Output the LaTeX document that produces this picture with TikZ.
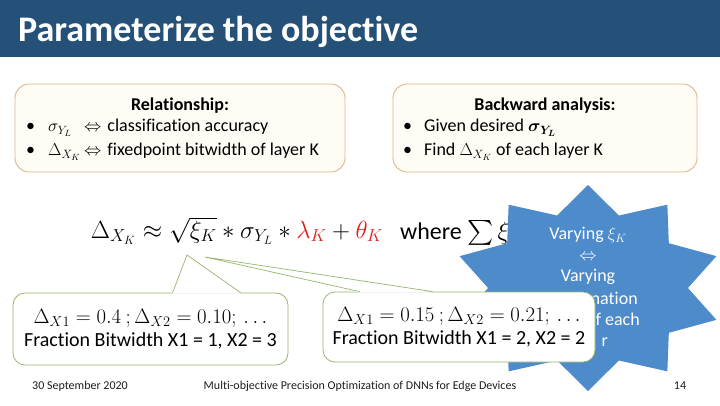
\documentclass[tikz,border=0pt]{standalone}
\usepackage{fontspec}
\setmainfont{Carlito}[Ligatures={NoCommon}]
\usepackage{amsmath}
\usepackage{xcolor}
\usepackage{tikz}
\usetikzlibrary{positioning}

\definecolor{barblue}{RGB}{37,80,119}
\definecolor{boxline}{RGB}{226,182,132}
\definecolor{boxfill}{RGB}{255,252,246}
\definecolor{calloutline}{RGB}{150,182,110}
\definecolor{starblue}{RGB}{78,139,203}
\definecolor{eqred}{RGB}{222,32,28}
\definecolor{footgray}{RGB}{30,30,30}

\begin{document}
\begin{tikzpicture}[
    x=1pt, y=-1pt,
    infobox/.style={draw=boxline, fill=boxfill, rounded corners=14pt, line width=0.9pt, minimum height=88pt, inner sep=0pt},
    calloutbox/.style={draw=calloutline, fill=white, rounded corners=12pt, line width=0.8pt, inner sep=0pt, align=center, font=\fontsize{20}{23}\selectfont},
    pointer/.style={draw=calloutline, line width=0.7pt},
    heading/.style={inner sep=0pt, font=\fontsize{18}{24}\selectfont\bfseries},
    bullets/.style={inner sep=0pt, anchor=west, align=left, font=\fontsize{18}{24}\selectfont},
    starline/.style={inner sep=0pt, anchor=base east, text=white, font=\fontsize{18}{21}\selectfont},
    foot/.style={inner sep=0pt, text=footgray, font=\fontsize{12}{14}\selectfont}
  ]
    \useasboundingbox (0,0) rectangle (720,405);
    \fill[white] (0,0) rectangle (720,405);

    % title bar
    \fill[barblue] (0,0) rectangle (720,57);
    \node[inner sep=0pt, anchor=base west, text=white, font=\fontsize{36}{40}\selectfont\bfseries] (title) at (18,41) {Parameterize the objective};

    % the two info boxes
    \node[infobox, minimum width=330pt] (relbox) at (180,128) {};
    \node[heading] (relhead) at (180,106) {Relationship:};
    \node[bullets] (rellist) at (26,140) {\textbullet\hspace{13pt}\makebox[36pt][l]{$\sigma_{Y_L}$}$\Leftrightarrow$\hspace{6pt}classification accuracy\\
      \textbullet\hspace{13pt}\makebox[36pt][l]{$\Delta_{X_K}$}$\Leftrightarrow$\hspace{6pt}fixedpoint bitwidth of layer K};

    \node[infobox, minimum width=304pt] (backbox) at (545,128) {};
    \node[heading] (backhead) at (545,106) {Backward analysis:};
    \node[bullets] (backlist) at (403,140) {\textbullet\hspace{12pt}Given desired $\boldsymbol{\sigma_{Y_L}}$\\
      \textbullet\hspace{12pt}Find $\Delta_{X_K}$ of each layer K};

    % objective
    \node[inner sep=0pt, font=\fontsize{24.5}{28}\selectfont] (objective) at (237,231)
      {$\Delta_{X_K} \approx \sqrt{\xi_K} * \sigma_{Y_L} * \textcolor{eqred}{\lambda_K} + \textcolor{eqred}{\theta_K}$};
    \node[inner sep=0pt, anchor=west, font=\fontsize{24}{28}\selectfont] (where) at (400,233) {where $\sum \xi_K$};

    % 10-point star
    \fill[starblue] (588,185) \foreach \i [evaluate=\i as \a using {90-18*\i},
        evaluate=\i as \f using {1-0.26*mod(\i,2)}] in {1,...,19} {
        -- ({588+135*\f*cos(\a)},{288-103*\f*sin(\a)}) } -- cycle;
    \node[inner sep=0pt, align=center, text=white, font=\fontsize{18}{21}\selectfont] (starnote) at (588,256)
      {Varying $\xi_K$\\$\Leftrightarrow$\\Varying};
    \node[starline] (starA) at (638,304) {mation};
    \node[starline] (starB) at (640,325) {f each};
    \node[starline] (starC) at (608,346) {r};

    % callouts
    \node[calloutbox, minimum width=275pt, minimum height=72pt] (calloutA) at (150.5,329)
      {$\Delta_{X1} = 0.4\ ;\Delta_{X2} = 0.10;\,\ldots$\\Fraction Bitwidth X1 = 1, X2 = 3};
    \coordinate (tipA) at (187,255);
    \fill[white] ([xshift=160pt, yshift=-1pt]calloutA.north west) -- (tipA) -- ([xshift=228pt, yshift=-1pt]calloutA.north west) -- cycle;
    \draw[pointer] ([xshift=160pt]calloutA.north west) -- (tipA) -- ([xshift=228pt]calloutA.north west);

    \node[calloutbox, minimum width=272pt, minimum height=70pt] (calloutB) at (459,327)
      {$\Delta_{X1} = 0.15\ ;\Delta_{X2} = 0.21;\,\ldots$\\Fraction Bitwidth X1 = 2, X2 = 2};
    \coordinate (tipB) at (205,257);
    \fill[white] ([xshift=37pt, yshift=-1pt]calloutB.north west) -- (tipB) -- ([xshift=110pt, yshift=-1pt]calloutB.north west) -- cycle;
    \draw[pointer] ([xshift=37pt]calloutB.north west) -- (tipB) -- ([xshift=110pt]calloutB.north west);

    % footer
    \node[foot] (datefoot) at (80,386) {30 September 2020};
    \node[foot] (talkfoot) at (360,386) {Multi-objective Precision Optimization of DNNs for Edge Devices};
    \node[foot] (pagefoot) at (680,386) {14};
  \end{tikzpicture}
\end{document}
